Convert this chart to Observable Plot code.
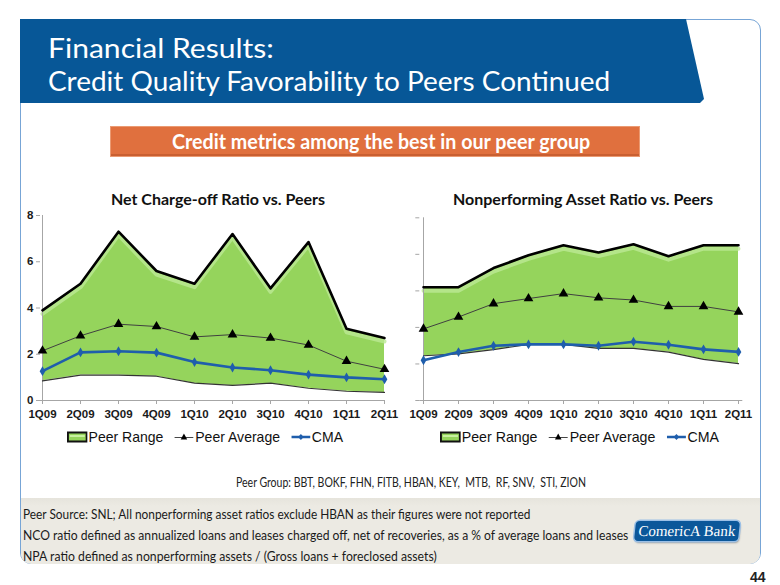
<!DOCTYPE html>
<html>
<head>
<meta charset="utf-8">
<script src="https://cdn.jsdelivr.net/npm/d3@7"></script>
<script src="https://cdn.jsdelivr.net/npm/@observablehq/plot@0.6"></script>
<style>
  html, body { margin: 0; padding: 0; background: #fff; }
  #page { position: relative; width: 780px; height: 585px; overflow: hidden; background: #fff; font-family: Lato, "Open Sans", sans-serif; }
  .abs { position: absolute; }
  #frame { left: 20px; top: 19px; width: 741px; height: 545px; border: 1.5px solid #77a5d6; border-radius: 0 11px 11px 11px; box-sizing: border-box; }
  #footer { left: 21px; top: 498px; width: 739px; height: 66px; background: linear-gradient(#e6e4dc, #eceae3 8px, #eceae3); border-radius: 0 0 10px 10px; }
  #banner { left: 20px; top: 19px; width: 690px; height: 85px; background: #075797; clip-path: polygon(0 0, 666px 0, 684px 80px, 680px 84px, 0 84px); }
  .title { left: 48px; color: #fff; font-family: Lato, sans-serif; font-size: 27px; white-space: nowrap; transform-origin: left center; }
  #orange { left: 110px; top: 126px; width: 530px; height: 31px; background: #e0703e; box-shadow: inset 0 0 0 1px #eb9a72, inset 0 -3px 0 #c95f31; }
  #orangeText { left: 172px; top: 126px; height: 31px; line-height: 31px; color: #fff; font-weight: bold; font-size: 20px; font-family: Lato, sans-serif; white-space: nowrap; transform-origin: left center; }
  .ctitle { font-weight: bold; font-size: 16px; color: #111; white-space: nowrap; font-family: Lato, sans-serif; text-align: center; }
  .legend { font-family: "Liberation Sans", Arial, sans-serif; font-size: 15px; color: #111; white-space: nowrap; display: flex; align-items: center; transform-origin: left center; }
  .legend svg { display: block; }
  .foot { left: 23px; font-size: 13px; color: #1a1a1a; white-space: nowrap; font-family: Lato, sans-serif; transform-origin: left center; }
  #peer { left: 236px; top: 474px; font-size: 13px; color: #222; white-space: nowrap; font-family: Lato, sans-serif; transform-origin: left center; }
  #logo { left: 635px; top: 521px; width: 104px; height: 20px; background: #0b579a; border-radius: 4px; box-shadow: 0 0 0 1.5px #9cc0e6, 1px 2px 2px rgba(0,0,0,0.35); color: #fff; font-family: "Liberation Serif", "DejaVu Serif", serif; font-size: 15px; line-height: 20px; text-align: center; transform: skewX(-6deg); }
  #pnum { left: 750px; top: 569px; font-family: "Liberation Sans", Arial, sans-serif; font-weight: bold; font-size: 14px; color: #222; }
</style>
</head>
<body>
<div id="page">
  <div id="frame" class="abs"></div>
  <div id="footer" class="abs"></div>
  <div id="banner" class="abs"></div>
  <div id="t1" class="abs title" style="top:31px">Financial Results:</div>
  <div id="t2" class="abs title" style="top:64px">Credit Quality Favorability to Peers Continued</div>
  <div id="orange" class="abs"></div>
  <div id="orangeText" class="abs">Credit metrics among the best in our peer group</div>
  <div class="abs ctitle" style="left:68px; width:300px; top:189px">Net Charge-off Ratio vs. Peers</div>
  <div class="abs ctitle" style="left:433px; width:300px; top:189px">Nonperforming Asset Ratio vs. Peers</div>
  <div id="chartL" class="abs" style="left:0px; top:205px"></div>
  <div id="chartR" class="abs" style="left:400px; top:205px"></div>
  <div id="legL" class="abs legend" style="left:67px; top:428px"></div>
  <div id="legR" class="abs legend" style="left:440px; top:428px"></div>
  <div id="peer" class="abs">Peer Group: BBT, BOKF, FHN, FITB, HBAN, KEY,&nbsp; MTB,&nbsp; RF, SNV,&nbsp; STI, ZION</div>
  <div id="f1" class="abs foot" style="top:506px">Peer Source: SNL; All nonperforming asset ratios exclude HBAN as their figures were not reported</div>
  <div id="f2" class="abs foot" style="top:527px">NCO ratio defined as annualized loans and leases charged off, net of recoveries, as a % of average loans and leases</div>
  <div id="f3" class="abs foot" style="top:548px">NPA ratio defined as nonperforming assets / (Gross loans + foreclosed assets)</div>
  <div id="logo" class="abs">ComericA Bank</div>
  <div id="pnum" class="abs">44</div>
</div>
<script>
// ---- data ----
const quarters = ["1Q09","2Q09","3Q09","4Q09","1Q10","2Q10","3Q10","4Q10","1Q11","2Q11"];
const ncoMax = [3.9, 5.05, 7.3, 5.6, 5.05, 7.2, 4.85, 6.85, 3.1, 2.7];
const ncoMin = [0.85, 1.1, 1.1, 1.05, 0.75, 0.65, 0.75, 0.53, 0.4, 0.35];
const ncoAvg = [2.15, 2.8, 3.3, 3.2, 2.75, 2.85, 2.7, 2.4, 1.7, 1.35];
const ncoCma = [1.27, 2.08, 2.13, 2.07, 1.66, 1.43, 1.31, 1.12, 1.0, 0.92];
const npaMax = [6.2, 6.2, 7.25, 7.95, 8.5, 8.1, 8.55, 7.9, 8.5, 8.5];
const npaMin = [2.45, 2.55, 2.78, 3.07, 3.07, 2.85, 2.85, 2.65, 2.25, 2.02];
const npaAvg = [3.92, 4.57, 5.3, 5.58, 5.85, 5.62, 5.5, 5.15, 5.15, 4.85];
const npaCma = [2.2, 2.65, 3.0, 3.07, 3.07, 3.0, 3.22, 3.05, 2.8, 2.66];
const ncoTicks = [0, 2, 4, 6, 8];
const npaTicks = [0, 2, 4, 6, 8, 10];
const legendLabels = ["Peer Range", "Peer Average", "CMA"];

const GREEN = "#95d45c", LIGHT = "#bce895", BLUE = "#1f5eac";

function makeChart(maxv, minv, avgv, cmav, ticks, showLabels, opts) {
  const rows = quarters.map((q, i) => ({q, max: maxv[i], min: minv[i], avg: avgv[i], cma: cmav[i]}));
  return Plot.plot({
    width: opts.width, height: 225,
    marginLeft: opts.ml, marginRight: opts.mr, marginTop: opts.mt, marginBottom: 30,
    style: {fontFamily: "'Liberation Sans', Arial, sans-serif", fontSize: "11.5px", fontWeight: "bold", color: "#1a1a1a", background: "transparent", overflow: "visible"},
    x: {type: "point", domain: quarters, padding: 0},
    y: {domain: [ticks[0], ticks[ticks.length - 1]]},
    marks: [
      Plot.areaY(rows, {x: "q", y1: "min", y2: "max", fill: GREEN}),
      Plot.lineY(rows, {x: "q", y: "max", stroke: LIGHT, strokeWidth: 4, dy: 3.5, strokeOpacity: 0.8}),
      Plot.ruleY([0], {stroke: "#a6a6a6", strokeWidth: 1}),
      Plot.ruleX([quarters[0]], {stroke: "#a6a6a6", strokeWidth: 1}),
      Plot.axisX({tickSize: 4, tickPadding: 5, stroke: "#a6a6a6", fill: "#1a1a1a", label: null}),
      Plot.axisY({ticks, tickSize: 4, tickPadding: 3, stroke: "#a6a6a6", fill: "#1a1a1a", label: null,
                  tickFormat: showLabels ? (d => d) : (() => "")}),
      Plot.lineY(rows, {x: "q", y: "min", stroke: "#333", strokeWidth: 1.2}),
      Plot.lineY(rows, {x: "q", y: "max", stroke: "#000", strokeWidth: 2.6}),
      Plot.lineY(rows, {x: "q", y: "avg", stroke: "#404040", strokeWidth: 1}),
      Plot.dot(rows, {x: "q", y: "avg", symbol: "triangle", r: 3.6, fill: "#000", stroke: "none"}),
      Plot.lineY(rows, {x: "q", y: "cma", stroke: BLUE, strokeWidth: 2.6}),
      Plot.dot(rows, {x: "q", y: "cma", symbol: "diamond", r: 3, fill: BLUE, stroke: "none"})
    ]
  });
}

document.getElementById("chartL").append(makeChart(ncoMax, ncoMin, ncoAvg, ncoCma, ncoTicks, true, {width: 400, ml: 40, mr: 15, mt: 10}));
document.getElementById("chartR").append(makeChart(npaMax, npaMin, npaAvg, npaCma, npaTicks, false, {width: 380, ml: 19.3, mr: 37.7, mt: 12.3}));

function legend(el) {
  const sym = [
    `<svg width="22" height="14"><rect x="1" y="2.5" width="20" height="9" fill="${GREEN}" stroke="#111" stroke-width="2"/><rect x="3" y="5" width="16" height="2" fill="#c8f0a0"/></svg>`,
    `<svg width="22" height="14"><line x1="1" y1="7.5" x2="21" y2="7.5" stroke="#404040" stroke-width="1"/><path d="M11,3.5 L14.5,9.5 L7.5,9.5 Z" fill="#000"/></svg>`,
    `<svg width="22" height="14"><line x1="1" y1="7" x2="21" y2="7" stroke="${BLUE}" stroke-width="2.6"/><path d="M11,4 L14,7 L11,10 L8,7 Z" fill="${BLUE}"/></svg>`
  ];
  el.innerHTML = legendLabels.map((t, i) =>
    `<span style="display:flex;align-items:center;margin-right:${i < 2 ? 11 : 0}px">${sym[i]}<span style="margin-left:1px">${t}</span></span>`).join("");
}
legend(document.getElementById("legL"));
legend(document.getElementById("legR"));

// fit text widths to the reference layout
function fit(id, w) {
  const el = document.getElementById(id);
  const cur = el.scrollWidth;
  if (cur > 0) el.style.transform = `scaleX(${w / cur})`;
}
fit("t1", 226);
fit("t2", 562);
fit("orangeText", 418);
fit("legL", 276);
fit("legR", 279);
fit("peer", 350);
fit("f1", 507);
fit("f2", 605);
fit("f3", 414);
</script>
</body>
</html>
